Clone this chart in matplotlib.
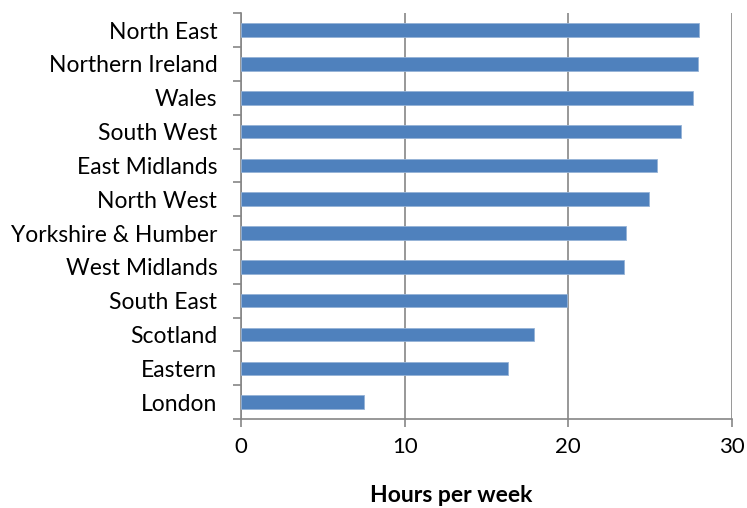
import matplotlib
matplotlib.use("Agg")
import matplotlib.pyplot as plt
import numpy as np

regions = ["North East", "Northern Ireland", "Wales", "South West", "East Midlands",
           "North West", "Yorkshire & Humber", "West Midlands", "South East",
           "Scotland", "Eastern", "London"]
hours = [28.0, 27.9, 27.6, 26.9, 25.4, 24.9, 23.5, 23.4, 19.9, 17.9, 16.3, 7.5]
xticks = [0, 10, 20, 30]

plt.rcParams['font.family'] = ['Lato', 'DejaVu Sans']

fig = plt.figure(figsize=(7.47, 5.08), dpi=100)
ax = fig.add_axes([0.3226, 0.175, 0.98 - 0.3226, 0.974 - 0.175])

n = len(regions)
ypos = np.arange(n)[::-1]
ax.barh(ypos, hours, height=0.4, color='#4F81BD', edgecolor='#95B3D7', linewidth=0.6, zorder=3)

ax.set_xlim(0, 30)
ax.set_ylim(-0.5, n - 0.5)
ax.set_xticks(xticks)
ax.set_xticklabels([str(t) for t in xticks], fontsize=16)
ax.set_yticks(ypos)
ax.set_yticklabels(regions, fontsize=16.5)
ax.set_yticks(np.arange(-0.5, n, 1.0), minor=True)
ax.tick_params(axis='y', which='major', length=0, pad=17)
ax.tick_params(axis='y', which='minor', length=6, color='#868686', width=1.2)
ax.tick_params(axis='x', which='major', length=6, color='#868686', width=1.2, pad=7)

ax.grid(axis='x', color='#868686', linewidth=1.2, zorder=0)
for s in ['top', 'right']:
    ax.spines[s].set_visible(False)
for s in ['left', 'bottom']:
    ax.spines[s].set_color('#868686')
    ax.spines[s].set_linewidth(1.2)

ax.set_xlabel('Hours per week', fontsize=16.5, fontweight='bold')
ax.xaxis.set_label_coords(0.428, -0.163)

fig.savefig('out.png', dpi=100)
